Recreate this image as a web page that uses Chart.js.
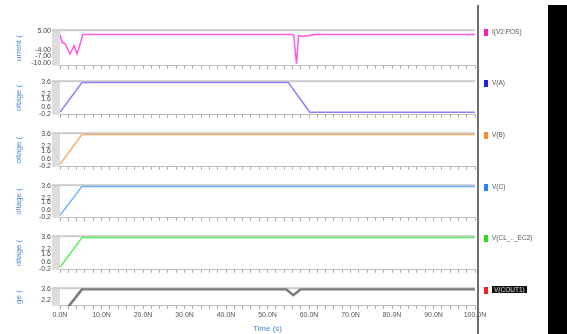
<!DOCTYPE html>
<html lang="en">
<head>
    <meta charset="UTF-8">
    <title>Transient waveforms</title>
    <script src="https://cdn.jsdelivr.net/npm/chart.js"></script>
    <style>
        body { margin: 0; background: #fff; width: 567px; height: 334px; overflow: hidden; position: relative; font-family: "Liberation Sans", Arial, sans-serif; }
        canvas { position: absolute; left: 0; }
        .divider { position: absolute; left: 477px; top: 5px; width: 2px; height: 329px; background: #6e6e6e; }
        .blackbar { position: absolute; left: 548px; top: 5px; width: 19px; height: 329px; background: #000; }
        .leg { position: absolute; left: 484px; height: 8px; font-size: 6.5px; color: #555; line-height: 8px; white-space: nowrap; }
        .leg span.sw { display: inline-block; width: 4px; height: 7px; vertical-align: middle; margin-right: 4px; }
        .leg span.hl { background: #111; color: #ddd; padding: 0 2px; }
    </style>
</head>
<body>
    <canvas id="p1" width="490" height="46" style="top:25px"></canvas>
    <canvas id="p2" width="490" height="44" style="top:76px"></canvas>
    <canvas id="p3" width="490" height="44" style="top:128px"></canvas>
    <canvas id="p4" width="490" height="43" style="top:180px"></canvas>
    <canvas id="p5" width="490" height="44" style="top:231px"></canvas>
    <canvas id="p6" width="490" height="52" style="top:283px"></canvas>
    <div class="divider"></div>
    <div class="blackbar"></div>
    <div id="legend"></div>

    <script>
        // time in ns
        const iPosT = [0, 0.5, 1.2, 2.4, 3.4, 4.1, 5.1, 5.5, 55.5, 56.3, 57.0, 57.5, 58.5, 60, 61.5, 100];
        const iPosV = [3.5, -0.4, -0.9, -5.8, -1.9, -5.8, 0.6, 3.5, 3.5, 3.2, -10.5, 3.0, 2.5, 3.0, 3.5, 3.5];

        const vAT = [0, 5.3, 55.0, 60.2, 100];
        const vAV = [0, 3.6, 3.6, 0, 0];

        const vBT = [0, 5.3, 100];
        const vBV = [0, 3.6, 3.6];

        const vCT = [0, 5.3, 100];
        const vCV = [0, 3.6, 3.6];

        const vClT = [0, 5.3, 100];
        const vClV = [0, 3.6, 3.6];

        const vOutT = [0, 5.3, 54.5, 56.2, 58.0, 100];
        const vOutV = [0, 3.6, 3.6, 2.85, 3.6, 3.6];

        const currentTicks = [5, -4, -7, -10];
        const voltTicks = [3.6, 2.2, 1.6, 0.6, -0.2];
        const outTicks = [3.6, 2.2];

        const legendNames = ['I(V2:POS)', 'V(A)', 'V(B)', 'V(C)', 'V(CL_.._EC2)', 'V(COUT1)'];
        const legendColors = ['#ff1eb4', '#2020e8', '#ff8a2a', '#2a7fff', '#22dd22', '#ee2222'];
        const legendTops = [28, 79, 131, 183, 234, 286];

        const blue = '#4a86d4';

        // grey strip left of each plot and grey band on top
        const panelDeco = {
            id: 'panelDeco',
            beforeDraw(chart) {
                const ctx = chart.ctx;
                const a = chart.chartArea;
                ctx.save();
                ctx.fillStyle = '#dddddd';
                ctx.fillRect(a.left - 8, a.top, 8, a.bottom - a.top);
                ctx.fillStyle = '#cccccc';
                ctx.fillRect(a.left - 8, a.top - 1, a.right - a.left + 8, 2);
                ctx.restore();
            }
        };

        function toPoints(t, v) {
            return t.map((x, i) => ({ x: x, y: v[i] }));
        }

        function makePanel(id, t, v, color, width, yMin, yMax, ticks, digits, title, bottom) {
            new Chart(document.getElementById(id), {
                type: 'line',
                data: {
                    datasets: [{
                        data: toPoints(t, v),
                        borderColor: color,
                        borderWidth: width,
                        pointRadius: 0,
                        tension: 0,
                    }]
                },
                options: {
                    responsive: false,
                    animation: false,
                    layout: { padding: { top: 5, bottom: 1, left: 0, right: 15 } },
                    plugins: { legend: { display: false }, tooltip: { enabled: false } },
                    scales: {
                        x: {
                            type: 'linear',
                            min: 0,
                            max: 100,
                            border: { color: '#bdbdbd', dash: [2, 2] },
                            grid: { drawOnChartArea: false, tickLength: 3, color: '#aaaaaa' },
                            ticks: {
                                display: bottom,
                                stepSize: 2,
                                autoSkip: false,
                                maxRotation: 0,
                                padding: 2,
                                color: '#555',
                                font: { family: 'Liberation Sans', size: 7 },
                                callback: (val) => (val % 10 === 0 ? val.toFixed(1) + 'N' : '')
                            },
                            title: {
                                display: bottom,
                                text: 'Time (s)',
                                color: blue,
                                padding: 0,
                                font: { family: 'Liberation Sans', size: 8 }
                            },
                            afterFit: (s) => { s.height = bottom ? 28 : 4; }
                        },
                        y: {
                            min: yMin,
                            max: yMax,
                            border: { display: false },
                            grid: { drawOnChartArea: false, tickLength: 8, color: 'rgba(0,0,0,0)' },
                            afterBuildTicks: (s) => { s.ticks = ticks.map(n => ({ value: n })); },
                            ticks: {
                                autoSkip: false,
                                padding: 1,
                                color: '#444',
                                font: { family: 'Liberation Sans', size: 7 },
                                callback: (val) => val.toFixed(digits)
                            },
                            title: {
                                display: true,
                                text: title,
                                color: blue,
                                padding: { top: 14, bottom: 0 },
                                font: { family: 'Liberation Sans', size: 8 }
                            },
                            afterFit: (s) => { s.width = 60; }
                        }
                    }
                },
                plugins: [panelDeco]
            });
        }

        makePanel('p1', iPosT, iPosV, '#ff5ade', 1.5, -11.5, 5.5, currentTicks, 2, 'urrent (', false);
        makePanel('p2', vAT, vAV, '#8f80ff', 1.5, -0.3, 3.75, voltTicks, 1, 'oltage (', false);
        makePanel('p3', vBT, vBV, '#ffaa66', 1.5, -0.3, 3.75, voltTicks, 1, 'oltage (', false);
        makePanel('p4', vCT, vCV, '#6ab0ff', 1.5, -0.3, 3.75, voltTicks, 1, 'oltage (', false);
        makePanel('p5', vClT, vClV, '#5aee5a', 1.5, -0.3, 3.75, voltTicks, 1, 'oltage (', false);
        makePanel('p6', vOutT, vOutV, '#7a7a7a', 2.5, 1.45, 3.75, outTicks, 1, 'ge (', true);

        const legend = document.getElementById('legend');
        legendNames.forEach((name, i) => {
            const div = document.createElement('div');
            div.className = 'leg';
            div.style.top = legendTops[i] + 'px';
            const sw = '<span class="sw" style="background:' + legendColors[i] + '"></span>';
            const txt = i === legendNames.length - 1 ? '<span class="hl">' + name + '</span>' : name;
            div.innerHTML = sw + txt;
            legend.appendChild(div);
        });
    </script>
</body>
</html>
